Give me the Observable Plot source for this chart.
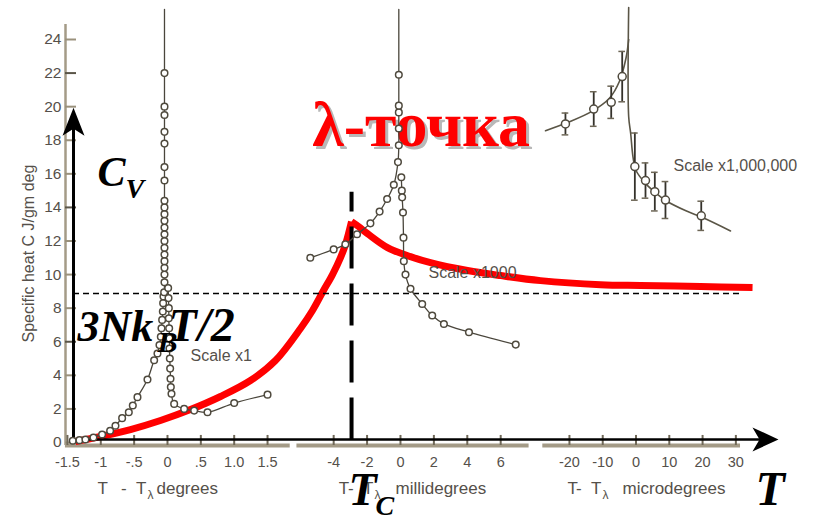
<!DOCTYPE html>
<html>
<head>
<meta charset="utf-8">
<script src="https://cdn.jsdelivr.net/npm/d3@7"></script>
<script src="https://cdn.jsdelivr.net/npm/@observablehq/plot@0.6"></script>
<style>
html,body{margin:0;padding:0;background:#fff;}
#chart{width:820px;height:520px;}
</style>
</head>
<body>
<div id="chart"></div>
<script>
// ================= DATA =================
const yTickValues = [0, 2, 4, 6, 8, 10, 12, 14, 16, 18, 20, 22, 24];
const degTickValues = [-1.5, -1, -0.5, 0, 0.5, 1, 1.5];
const degTickLabels = ["-1.5", "-1", "-.5", "0", ".5", "1.0", "1.5"];
const mdegTickValues = [-4, -2, 0, 2, 4, 6];
const udegTickValues = [-20, -10, 0, 10, 20, 30];
const panelUnits = ["degrees", "millidegrees", "microdegrees"];
const panelScaleNotes = ["Scale x1", "Scale x1000", "Scale x1,000,000"];
const yLabel = "Specific heat C J/gm deg";

// panel 1: T - Tλ in degrees, C in J/(g·deg)
const degBelow = [[-1.42,0.10],[-1.32,0.14],[-1.23,0.18],[-1.11,0.30],[-0.98,0.48],[-0.86,0.70],[-0.78,1.00],[-0.68,1.45],[-0.58,1.80],[-0.52,2.20],[-0.45,2.70],[-0.30,3.75],[-0.20,4.90],[-0.15,5.30],[-0.12,5.80],[-0.10,6.30],[-0.09,6.80],[-0.08,7.30],[-0.07,7.80],[-0.065,8.30],[-0.06,8.70],[-0.05,8.95],[-0.045,9.54],[-0.045,10.0],[-0.045,10.4],[-0.045,10.8],[-0.045,11.2],[-0.045,11.6],[-0.045,12.0],[-0.045,12.4],[-0.045,12.8],[-0.045,13.2],[-0.045,13.6],[-0.045,14.0],[-0.045,14.4],[-0.045,15.6],[-0.045,16.4],[-0.045,17.8],[-0.045,18.5],[-0.045,19.5],[-0.045,20.0],[-0.045,22.0]];
const degAbove = [[0.01,9.2],[0.015,8.6],[0.02,8.0],[0.02,7.4],[0.025,6.8],[0.03,6.2],[0.03,5.6],[0.035,5.0],[0.04,4.4],[0.045,3.8],[0.05,3.3],[0.06,2.9],[0.10,2.3],[0.25,2.0],[0.40,1.9],[0.60,1.8],[1.00,2.35],[1.50,2.85]];
const degLineTop = [-0.045, 25.8];

// panel 2: millidegrees
const mdegBelow = [[-5.4,11.0],[-4.0,11.5],[-3.3,11.8],[-2.6,12.4],[-1.8,13.05],[-1.25,13.75],[-0.8,14.5],[-0.4,15.35],[-0.15,16.7],[-0.1,17.7],[-0.1,18.7],[-0.1,19.66],[-0.1,20.06],[-0.1,21.9]];
const mdegAbove = [[0.05,15.8],[0.08,15.0],[0.1,14.6],[0.15,13.7],[0.18,12.2],[0.2,10.8],[0.3,10.0],[0.6,9.15],[1.3,8.25],[1.9,7.56],[2.6,7.06],[4.1,6.57],[6.9,5.83]];
const mdegLineTop = [-0.1, 25.8];
const lambdaPointMdeg = -2.93;   // T_C marker

// panel 3: microdegrees, [T, C, error]
const udegBelow = [[-21.2,18.97,0.65],[-12.7,19.86,1.03],[-7.45,20.26,0.96],[-4.15,21.79,1.5]];
const udegAbove = [[-0.35,16.43,2.0],[2.85,15.6,1.05],[5.65,14.94,1.15],[8.85,14.44,1.1],[19.6,13.5,0.87]];
const udegFitBelow = [[-27.2,18.57],[-20,19.1],[-13,19.75],[-8,20.5],[-5,21.5],[-3,22.9],[-2.2,24.0]];
const udegFitAbove = [[-2.2,25.9],[-2.2,19.4],[-1.6,18.4],[-0.9,17.0],[0,16.2],[3,15.4],[6,14.85],[9,14.4],[15,13.8],[20,13.4],[28.4,12.6]];

// schematic red C_V(T) curve on the common T axis
const cvRise = [[-1.379,0.06],[-1.004,0.36],[-0.555,0.77],[-0.105,1.31],[0.345,1.96],[0.795,2.74],[1.244,3.69],[1.619,4.88],[1.994,6.79],[2.174,7.86],[2.339,9.05],[2.474,10.0],[2.594,11.01],[2.669,11.8],[2.759,13.15]];
const cvFall = [[2.759,13.15],[2.864,12.86],[2.999,12.44],[3.298,11.61],[3.643,11.07],[3.943,10.71],[4.498,10.24],[4.993,9.94],[5.592,9.64],[6.492,9.40],[7.091,9.35],[7.991,9.29],[8.771,9.23]];
const classicalCv = 8.87;   // 3NkT/2 level

// ================= LAYOUT =================
const P = [{off: 0, k: 1}, {off: 3.493, k: 0.2504}, {off: 7.024, k: 0.0499}];
const U = (i, t) => P[i].off + P[i].k * t;
const xDomain = [-1.529, 9.49];
const brown = "#a49b87", tickCol = "#6f6858", labelCol = "#55504a", dataCol = "#4a463c";
const sans = "Liberation Sans, Arial, sans-serif";
const serif = "Liberation Serif, Times New Roman, serif";

const stealthUp = {draw(c){ c.moveTo(0,0); c.lineTo(11,28); c.lineTo(0,21); c.lineTo(-11,28); c.closePath(); }};
const stealthRight = {draw(c){ c.moveTo(0,0); c.lineTo(-26,-12); c.lineTo(-19,0); c.lineTo(-26,12); c.closePath(); }};

const panelTicks = [
  {i: 0, values: degTickValues, labels: degTickLabels},
  {i: 1, values: mdegTickValues, labels: mdegTickValues.map(String)},
  {i: 2, values: udegTickValues, labels: udegTickValues.map(String)}
];
const axisSegments = [[U(0,-1.53), U(0,1.84)], [U(1,-6.2), U(1,7.7)], [U(2,-28), U(2,31.4)]];
const titlePos = [{s: -1.05, t: -0.3, u: -0.165}, {s: -3.7, t: -1.56, u: -0.3}, {s: -20.6, t: -10.1, u: -4.05}];

const marks = [];
// λ-точка with shadow (under the data)
const lamOpts = {x: 2.17, y: 17.68, text: d => d, fontFamily: serif, fontWeight: "bold", fontSize: 64, textAnchor: "start", lineAnchor: "bottom"};
marks.push(Plot.text(["λ-точка"], {...lamOpts, dx: 3, dy: 3, fill: "#b8b8b8"}));
marks.push(Plot.text(["λ-точка"], {...lamOpts, fill: "#ff0000"}));

// brown original axes
marks.push(Plot.ruleX([xDomain[0]], {y1: -0.18, y2: 24.9, stroke: brown, strokeWidth: 2.5}));
marks.push(Plot.ruleY(axisSegments, {y: -0.18, x1: d => d[0], x2: d => d[1], stroke: brown, strokeWidth: 4}));
marks.push(Plot.ruleY(yTickValues, {x1: xDomain[0], x2: xDomain[0] + 0.165, stroke: (d) => [22,14,6].includes(d) ? "#5a5548" : "#9a917c", strokeWidth: 2}));
for (const p of panelTicks) {
  marks.push(Plot.ruleX(p.values, {x: d => U(p.i, d), y1: -0.18, y2: 0.42, stroke: tickCol, strokeWidth: 2}));
  marks.push(Plot.text(p.values, {x: d => U(p.i, d), y: -1.19, text: (d, j) => p.labels[j], fill: labelCol, fontFamily: sans, fontSize: 14.5, lineAnchor: "middle"}));
}
// y tick labels and y label
marks.push(Plot.text(yTickValues, {y: d => d, frameAnchor: "left", dx: -4, text: d => String(d), textAnchor: "end", lineAnchor: "middle", fill: labelCol, fontFamily: sans, fontSize: 15.5}));
marks.push(Plot.text([yLabel], {y: 11.25, frameAnchor: "left", dx: -37, text: d => d, rotate: -90, textAnchor: "middle", lineAnchor: "middle", fill: labelCol, fontFamily: sans, fontSize: 16}));

// red schematic curve
marks.push(Plot.line(cvRise, {x: d => d[0], y: d => d[1], stroke: "#ff0000", strokeWidth: 7, curve: "catmull-rom", strokeLinecap: "butt"}));
marks.push(Plot.line(cvFall, {x: d => d[0], y: d => d[1], stroke: "#ff0000", strokeWidth: 7, curve: "catmull-rom", strokeLinecap: "butt"}));

// dashed lines
marks.push(Plot.ruleY([classicalCv], {x1: -1.409, x2: 8.59, stroke: "black", strokeWidth: 1.5, strokeDasharray: "6,4"}));
marks.push(Plot.ruleX([U(1, lambdaPointMdeg)], {y1: 0.15, y2: 14.9, stroke: "black", strokeWidth: 4, strokeDasharray: "42,15"}));

// black arrows
marks.push(Plot.ruleX([-1.409], {y1: 0.05, y2: 18.8, stroke: "black", strokeWidth: 3}));
marks.push(Plot.ruleY([0.18], {x1: -1.409, x2: 8.9, stroke: "black", strokeWidth: 2.5}));
marks.push(Plot.dot([0], {x: -1.409, y: 19.94, symbol: stealthUp, r: 5, fill: "black", stroke: "none"}));
marks.push(Plot.dot([0], {x: 9.16, y: 0.18, symbol: stealthRight, r: 5, fill: "black", stroke: "none"}));

// data lines
const lineOpts = {stroke: dataCol, strokeWidth: 1.3, curve: "catmull-rom"};
marks.push(Plot.line([...degBelow, degLineTop], {x: d => U(0, d[0]), y: d => d[1], ...lineOpts}));
marks.push(Plot.line(degAbove, {x: d => U(0, d[0]), y: d => d[1], ...lineOpts}));
marks.push(Plot.line([...mdegBelow, mdegLineTop], {x: d => U(1, d[0]), y: d => d[1], ...lineOpts}));
marks.push(Plot.line(mdegAbove, {x: d => U(1, d[0]), y: d => d[1], ...lineOpts}));
marks.push(Plot.line(udegFitBelow, {x: d => U(2, d[0]), y: d => d[1], ...lineOpts, stroke: "#5a5546", strokeWidth: 1.6}));
marks.push(Plot.line(udegFitAbove, {x: d => U(2, d[0]), y: d => d[1], ...lineOpts, stroke: "#5a5546", strokeWidth: 1.6}));

// error bars (panel 3)
const udegAll = [...udegBelow, ...udegAbove];
marks.push(Plot.ruleX(udegAll, {x: d => U(2, d[0]), y1: d => d[1] - d[2], y2: d => d[1] + d[2], stroke: "#35322b", strokeWidth: 1.8}));
marks.push(Plot.ruleY(udegAll, {y: d => d[1] + d[2], x1: d => U(2, d[0]) - 0.05, x2: d => U(2, d[0]) + 0.05, stroke: "#6d6656", strokeWidth: 1.5}));
marks.push(Plot.ruleY(udegAll, {y: d => d[1] - d[2], x1: d => U(2, d[0]) - 0.05, x2: d => U(2, d[0]) + 0.05, stroke: "#6d6656", strokeWidth: 1.5}));

// circles
const dotOpts = {r: 3.3, fill: "white", stroke: "#4f4a3e", strokeWidth: 1.5};
marks.push(Plot.dot([...degBelow, ...degAbove], {x: d => U(0, d[0]), y: d => d[1], ...dotOpts}));
marks.push(Plot.dot([...mdegBelow, ...mdegAbove], {x: d => U(1, d[0]), y: d => d[1], ...dotOpts}));
marks.push(Plot.dot(udegAll, {x: d => U(2, d[0]), y: d => d[1], ...dotOpts, r: 4}));

// scale notes
const noteOpts = {text: d => d, fill: labelCol, fontFamily: sans, fontSize: 16, textAnchor: "start", lineAnchor: "bottom"};
marks.push(Plot.text([panelScaleNotes[0]], {x: 0.345, y: 4.88, ...noteOpts}));
marks.push(Plot.text([panelScaleNotes[1]], {x: 3.913, y: 9.82, ...noteOpts}));
marks.push(Plot.text([panelScaleNotes[2]], {x: 7.586, y: 16.19, ...noteOpts}));

// panel axis titles: "T - Tλ unit"
panelUnits.forEach((unit, i) => {
  const tp = titlePos[i];
  marks.push(Plot.text(["T"], {x: U(i, tp.s), y: -3.04, text: d => d, textAnchor: "start", lineAnchor: "bottom", fill: labelCol, fontFamily: sans, fontSize: 17}));
  marks.push(Plot.text(["-  T"], {x: U(i, tp.t), y: -3.04, dx: -1, text: d => d.replace(/ /g, "\u00a0"), textAnchor: "end", lineAnchor: "bottom", fill: labelCol, fontFamily: sans, fontSize: 17}));
  marks.push(Plot.text(["λ"], {x: U(i, tp.t), y: -3.39, text: d => d, textAnchor: "start", lineAnchor: "bottom", fill: labelCol, fontFamily: sans, fontSize: 12}));
  marks.push(Plot.text([unit], {x: U(i, tp.u), y: -3.04, text: d => d, textAnchor: "start", lineAnchor: "bottom", fill: labelCol, fontFamily: sans, fontSize: 17}));
});

// big black annotations
const big = {text: d => d, fill: "black", fontFamily: serif, fontWeight: "bold", fontStyle: "italic", textAnchor: "start", lineAnchor: "bottom"};
marks.push(Plot.text(["C"], {x: -1.049, y: 15.3, fontSize: 42, ...big}));
marks.push(Plot.text(["V"], {x: -0.63, y: 14.58, fontSize: 28, ...big}));
marks.push(Plot.text(["3Nk"], {x: -1.349, y: 6.07, fontSize: 44, ...big}));
marks.push(Plot.text(["B"], {x: -0.15, y: 5.36, fontSize: 30, ...big}));
marks.push(Plot.text(["T"], {x: 0.015, y: 6.07, fontSize: 46, ...big}));
marks.push(Plot.text(["/2"], {x: 0.45, y: 6.07, fontSize: 48, ...big}));
marks.push(Plot.text(["T"], {x: 2.714, y: -3.75, fontSize: 46, ...big}));
marks.push(Plot.text(["C"], {x: 3.118, y: -4.3, fontSize: 28, ...big}));
marks.push(Plot.text(["T"], {x: 8.816, y: -3.75, fontSize: 48, ...big}));

const chart = Plot.plot({
  width: 820, height: 520,
  marginLeft: 65, marginRight: 20, marginTop: 39, marginBottom: 78,
  x: {domain: xDomain, axis: null},
  y: {domain: [0, 24], axis: null},
  style: {background: "white", overflow: "visible", fontFamily: sans},
  marks
});
document.getElementById("chart").append(chart);
</script>
</body>
</html>
